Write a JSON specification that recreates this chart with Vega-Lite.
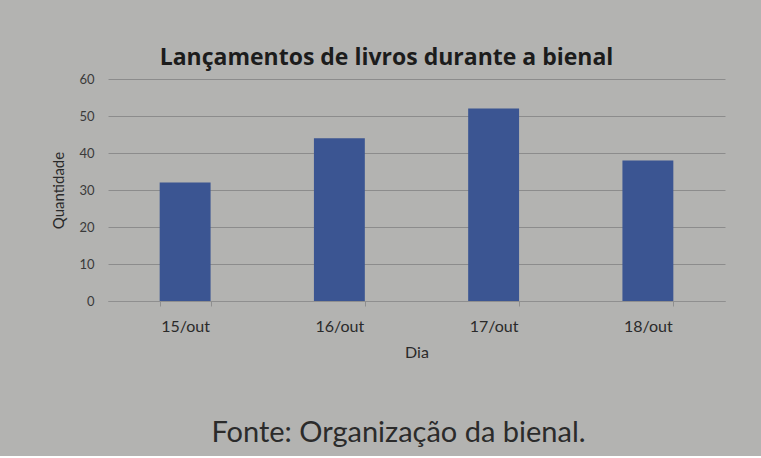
{
  "$schema": "https://vega.github.io/schema/vega-lite/v6.json",
  "background": "#b3b3b1",
  "padding": {"left": 51, "top": 47, "right": 36, "bottom": 8},
  "config": {"view": {"stroke": null}, "font": "Lato"},
  "datasets": {
    "bars": [
      {"Dia": "15/out", "Quantidade": 32},
      {"Dia": "16/out", "Quantidade": 44},
      {"Dia": "17/out", "Quantidade": 52},
      {"Dia": "18/out", "Quantidade": 38}
    ],
    "fonte": [{"texto": "Fonte: Organização da bienal."}]
  },
  "spacing": 58,
  "vconcat": [
    {
      "width": 617,
      "height": 222,
      "title": {
        "text": "Lançamentos de livros durante a bienal",
        "font": "Open Sans",
        "fontSize": 23,
        "fontWeight": "bold",
        "color": "#1c1c1c",
        "anchor": "middle",
        "dx": -30,
        "offset": 3
      },
      "data": {"name": "bars"},
      "mark": {"type": "bar", "color": "#3b5592"},
      "encoding": {
        "x": {
          "field": "Dia",
          "type": "nominal",
          "scale": {"paddingInner": 0.67, "paddingOuter": 0.335},
          "axis": {
            "labelAngle": 0,
            "labelFontSize": 16,
            "labelColor": "#2a2a2a",
            "labelPadding": 12,
            "tickBand": "extent",
            "tickColor": "#8f8f8f",
            "tickSize": 5,
            "domainColor": "#8f8f8f",
            "title": "Dia",
            "titleFontSize": 16,
            "titleFontWeight": "normal",
            "titleColor": "#2a2a2a",
            "titlePadding": 10
          }
        },
        "y": {
          "field": "Quantidade",
          "type": "quantitative",
          "scale": {"domain": [0, 60]},
          "axis": {
            "values": [0, 10, 20, 30, 40, 50, 60],
            "domain": false,
            "ticks": false,
            "labelFontSize": 13,
            "labelColor": "#3a3a3a",
            "labelPadding": 14,
            "gridColor": "#8c8c8c",
            "title": "Quantidade",
            "titleFontSize": 15,
            "titleFontWeight": "normal",
            "titleColor": "#2a2a2a",
            "titlePadding": 12
          }
        }
      }
    },
    {
      "width": 617,
      "height": 30,
      "data": {"name": "fonte"},
      "mark": {"type": "text", "fontSize": 29, "color": "#2b2b2b", "font": "Lato", "dx": -18},
      "encoding": {"text": {"field": "texto", "type": "nominal"}}
    }
  ]
}
